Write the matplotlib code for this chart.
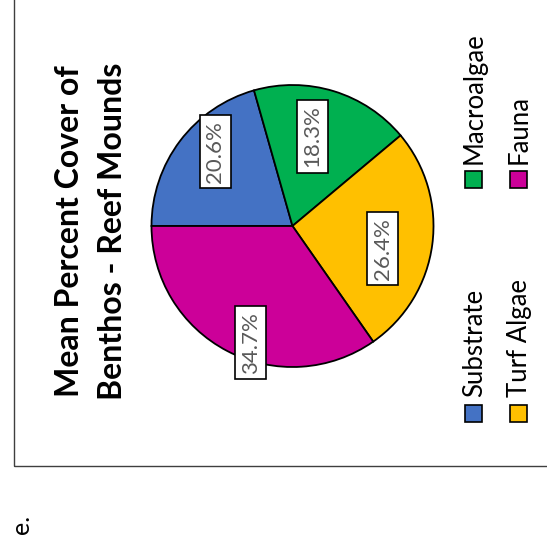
import numpy as np
import matplotlib
matplotlib.use("Agg")
import matplotlib.pyplot as plt
from matplotlib.patches import Rectangle

# benthic cover categories and their mean percent cover
categories = ["Substrate", "Macroalgae", "Turf Algae", "Fauna"]
cover_pct = [20.6, 18.3, 26.4, 34.7]
colors = ["#4472C4", "#00B050", "#FFC000", "#CC0099"]
title_lines = ["Mean Percent Cover of", "Benthos - Reef Mounds"]

W, H = 547, 544
plt.rcParams["font.family"] = ["Lato", "DejaVu Sans"]

fig = plt.figure(figsize=(W / 100, H / 100), dpi=100)


def fx(px):
    return px / W


def fy(py):
    return 1 - py / H


# outer chart frame (only the left and bottom edges fall inside the page)
fig.patches.append(Rectangle((fx(13.5), fy(466)), 1.2, 1.2, transform=fig.transFigure,
                             facecolor="none", edgecolor="#3f3f3f", lw=1.0))

# pie, turned a quarter turn with the rest of the chart
cx, cy, r = 292.5, 226, 141
ax = fig.add_axes([fx(cx - r), fy(cy + r), 2 * r / W, 2 * r / H])
wedges, _ = ax.pie(cover_pct, colors=colors, startangle=180, counterclock=False,
                   wedgeprops=dict(edgecolor="black", linewidth=1.3))
for w in wedges:
    w.set_clip_on(False)
ax.set_xlim(-1, 1)
ax.set_ylim(-1, 1)
ax.axis("off")

# data labels: radial distance and angular nudge from each wedge's middle
label_dist = [0.76, 0.65, 0.66, 0.88]
label_shift = [-6.9, 4.5, -6.6, 7.9]
for w, v, d, s in zip(wedges, cover_pct, label_dist, label_shift):
    a = np.deg2rad((w.theta1 + w.theta2) / 2 + s)
    ax.text(d * np.cos(a), d * np.sin(a), f"{v:.1f}%", rotation=90,
            ha="center", va="center", fontsize=16, color="#595959",
            bbox=dict(boxstyle="square,pad=0.25", facecolor="white",
                      edgecolor="black", linewidth=1.2))

# title, one text per line so each baseline sits where it should
for line, bx in zip(title_lines, [79, 122]):
    fig.text(fx(bx), fy(231), line, rotation=90, rotation_mode="anchor",
             ha="center", va="baseline", fontsize=23, fontweight="bold",
             color="black")

# legend, two entries per column
leg_x = [473.5, 473.5, 518.5, 518.5]
leg_y = [413.5, 180, 413.5, 180]
s = 17
for i, (lx, ly) in enumerate(zip(leg_x, leg_y)):
    fig.patches.append(Rectangle((fx(lx - s / 2), fy(ly + s / 2)), s / W, s / H,
                                 transform=fig.transFigure, facecolor=colors[i],
                                 edgecolor="black", lw=1.2))
    fig.text(fx(lx + s / 2), fy(ly - s / 2 - 8), categories[i], rotation=90,
             rotation_mode="anchor", ha="left", va="baseline", fontsize=18.5,
             color="black")

fig.text(fx(29), fy(534), "e.", rotation=90, rotation_mode="anchor",
         ha="left", va="baseline", fontsize=18, color="black")

fig.savefig("out.png", dpi=100)
